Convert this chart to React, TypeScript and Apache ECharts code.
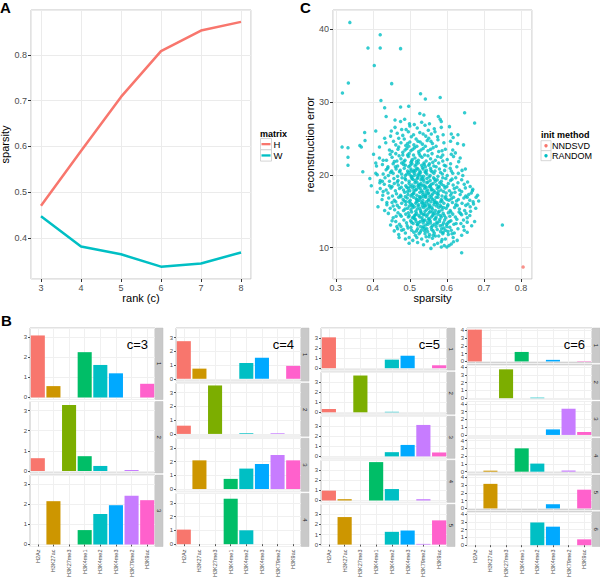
import React, { useEffect, useRef } from "react";
import * as echarts from "echarts";

// ---------- Panel A data ----------
const ranks = [3, 4, 5, 6, 7, 8];
const sparsityH = [0.47, 0.59, 0.708, 0.808, 0.853, 0.872];
const sparsityW = [0.447, 0.381, 0.364, 0.337, 0.344, 0.368];

// ---------- Panel B data ----------
const marks = ["H2Az", "H3K27ac", "H3K27me3", "H3K4me1", "H3K4me2", "H3K4me3", "H3K79me2", "H3K9ac"];
const markColors = ["#F8766D", "#CD9600", "#7CAE00", "#00BE67", "#00BFC4", "#00A9FF", "#C77CFF", "#FF61CC"];

const basisC3 = [
  [3.08, 0.565, 0, 2.25, 1.615, 1.2, 0, 0.68],
  [0.635, 0, 3.28, 0.735, 0.25, 0, 0.05, 0],
  [0, 2.15, 0, 0.715, 1.515, 1.95, 2.415, 2.2],
];
const basisC4 = [
  [2.74, 0.74, 0, 0, 1.15, 1.54, 0, 0.94],
  [0.6, 0, 3.53, 0, 0.05, 0, 0.05, 0],
  [0, 2.09, 0, 0.74, 1.49, 1.83, 2.48, 2.09],
  [1.06, 0, 0, 3.31, 1.01, 0, 0, 0],
];
const basisC5 = [
  [3.07, 0, 0, 0, 0.85, 1.24, 0, 0.29],
  [0.33, 0, 3.66, 0, 0.05, 0, 0, 0],
  [0, 0, 0, 0, 0.42, 1.14, 3.13, 0.39],
  [0.98, 0.13, 0, 3.82, 1.14, 0, 0.13, 0],
  [0, 2.74, 0, 0, 1.27, 1.4, 0.07, 2.41],
];
const basisC6 = [
  [4.09, 0, 0, 1.22, 0, 0.2, 0, 0.05],
  [0, 0, 3.71, 0, 0.07, 0, 0, 0],
  [0, 0, 0, 0, 0, 0.71, 3.37, 0.38],
  [0, 0.13, 0, 3.0, 1.04, 0, 0.15, 0],
  [0, 3.16, 0, 0, 0, 0.54, 0, 2.41],
  [0, 0, 0, 0, 2.92, 2.38, 0, 0.75],
];
const rankLabels = ["c=3", "c=4", "c=5", "c=6"];
const basisSets = [basisC3, basisC4, basisC5, basisC6];
const yTickLabelsB = [["0", "1", "2", "3"], ["0", "1", "2", "3"], ["0", "1", "2", "3"], ["0", "1", "2", "3", "4"]];

// ---------- Panel C data ----------
const nndsvdPoints = [[0.806, 7.35]];
const randomPoints = [
  [0.640,9.3],[0.557,9.9],[0.600,10.1],[0.606,10.3],[0.566,10.4],[0.521,10.7],[0.575,10.6],[0.612,10.5],[0.547,10.9],[0.585,10.8],[0.628,11.0],[0.508,11.0],
  [0.532,11.2],[0.561,11.3],[0.596,11.2],[0.498,11.4],[0.544,11.5],[0.578,11.6],[0.617,11.4],[0.470,11.8],[0.515,11.7],[0.553,11.8],[0.589,11.9],[0.640,11.7],[0.488,12.0],[0.528,12.1],[0.566,12.0],[0.603,12.2],[0.655,12.1],[0.458,12.3],[0.505,12.4],[0.540,12.3],[0.574,12.5],[0.612,12.4],[0.495,12.7],[0.521,12.6],[0.558,12.8],[0.592,12.7],[0.630,12.6],[0.476,12.9],[0.537,12.9],[0.548,12.2],[0.583,12.2],[0.511,12.1],[0.569,11.6],[0.525,11.9],[0.604,11.8],[0.483,12.5],[0.645,12.9],[0.559,12.5],[0.535,12.7],[0.600,12.9],[0.518,12.3],[0.586,12.6],[0.552,11.5],[0.620,12.0],[0.467,12.6],
  [0.448,13.1],[0.472,13.2],[0.493,13.0],[0.509,13.3],[0.521,13.1],[0.536,13.4],[0.549,13.2],[0.561,13.0],[0.574,13.3],[0.588,13.1],[0.603,13.4],[0.619,13.2],[0.638,13.3],[0.655,13.5],[0.675,13.6],[0.750,13.1],[0.462,13.6],[0.484,13.8],[0.502,13.7],[0.515,13.9],[0.528,13.6],[0.541,13.8],[0.555,13.7],[0.567,13.9],[0.580,13.6],[0.594,13.8],[0.611,13.7],[0.627,13.9],[0.645,13.8],[0.455,14.1],[0.477,14.3],[0.496,14.2],[0.512,14.0],[0.524,14.4],[0.533,14.1],[0.545,14.3],[0.558,14.2],[0.570,14.0],[0.583,14.4],[0.597,14.1],[0.608,14.3],[0.623,14.2],[0.640,14.5],[0.662,14.4],[0.442,14.7],[0.468,14.8],[0.489,14.6],[0.505,14.9],[0.518,14.7],[0.530,14.9],[0.539,14.6],[0.552,14.8],[0.563,14.6],[0.577,14.9],[0.590,14.7],[0.604,14.8],[0.616,14.6],[0.633,14.9],[0.652,14.7],[0.505,13.5],[0.548,13.5],[0.537,14.5],[0.562,14.4],[0.520,13.2],[0.585,14.2],[0.515,14.5],[0.573,13.5],[0.498,14.4],[0.556,13.4],[0.527,14.2],[0.543,13.1],[0.568,14.7],[0.591,13.4],[0.510,14.2],[0.534,13.8],
  [0.414,15.6],[0.432,15.1],[0.447,15.4],[0.459,15.2],[0.471,15.5],[0.483,15.1],[0.494,15.4],[0.503,15.2],[0.512,15.6],[0.520,15.3],[0.529,15.1],[0.537,15.5],[0.545,15.2],[0.553,15.6],[0.561,15.3],[0.569,15.1],[0.578,15.5],[0.587,15.2],[0.598,15.4],[0.609,15.1],[0.621,15.5],[0.634,15.3],[0.648,15.1],[0.663,15.6],[0.678,15.4],[0.438,15.9],[0.452,16.2],[0.466,15.8],[0.478,16.1],[0.489,15.9],[0.498,16.3],[0.507,15.8],[0.516,16.1],[0.524,15.9],[0.532,16.2],[0.540,15.8],[0.549,16.0],[0.557,16.3],[0.565,15.9],[0.573,16.2],[0.582,15.8],[0.592,16.1],[0.603,15.9],[0.615,16.2],[0.628,15.8],[0.641,16.1],[0.657,16.0],[0.671,16.3],[0.686,16.4],[0.425,16.6],[0.443,16.8],[0.458,16.5],[0.470,16.9],[0.482,16.6],[0.493,16.8],[0.501,16.5],[0.510,16.9],[0.519,16.6],[0.527,16.8],[0.535,16.5],[0.543,16.9],[0.551,16.6],[0.559,16.8],[0.567,16.5],[0.576,16.9],[0.585,16.6],[0.595,16.8],[0.606,16.5],[0.618,16.9],[0.631,16.6],[0.646,16.8],[0.662,16.5],[0.679,16.9],[0.508,15.5],[0.526,16.5],[0.545,16.3],[0.555,15.0],[0.516,15.0],[0.534,15.7],[0.562,16.6],[0.541,15.0],[0.587,16.4],[0.499,15.7],[0.572,15.7],[0.521,16.4],[0.551,15.4],[0.530,16.9],[0.490,16.3],[0.580,15.0],[0.612,16.7],
  [0.396,18.5],[0.412,17.6],[0.427,17.2],[0.441,17.5],[0.453,17.1],[0.464,17.4],[0.475,17.2],[0.486,17.6],[0.495,17.3],[0.503,17.1],[0.511,17.5],[0.519,17.2],[0.527,17.6],[0.535,17.3],[0.543,17.1],[0.551,17.5],[0.559,17.2],[0.568,17.6],[0.577,17.3],[0.587,17.1],[0.598,17.5],[0.610,17.2],[0.622,17.6],[0.636,17.3],[0.651,17.1],[0.666,17.5],[0.683,17.2],[0.420,18.1],[0.436,17.9],[0.449,18.2],[0.461,17.8],[0.472,18.1],[0.483,17.9],[0.492,18.3],[0.500,17.8],[0.508,18.2],[0.516,17.9],[0.524,18.3],[0.532,17.8],[0.540,18.1],[0.548,17.9],[0.556,18.3],[0.565,17.8],[0.574,18.1],[0.584,17.9],[0.595,18.2],[0.607,17.8],[0.620,18.1],[0.634,17.9],[0.650,18.2],[0.431,18.7],[0.445,18.5],[0.458,18.8],[0.469,18.6],[0.479,18.9],[0.489,18.5],[0.498,18.8],[0.506,18.6],[0.514,18.9],[0.522,18.5],[0.530,18.8],[0.538,18.6],[0.546,18.9],[0.555,18.5],[0.563,18.8],[0.572,18.6],[0.581,18.9],[0.592,18.5],[0.604,18.8],[0.617,18.6],[0.630,18.9],[0.647,18.7],[0.663,18.4],[0.509,17.4],[0.527,18.6],[0.545,17.7],[0.553,18.4],[0.518,18.0],[0.537,17.0],[0.562,17.4],[0.501,18.4],[0.579,18.4],[0.488,17.0],[0.533,18.5],[0.549,17.4],
  [0.373,20.4],[0.392,19.5],[0.408,20.2],[0.420,19.2],[0.433,19.6],[0.445,19.1],[0.457,19.5],[0.468,19.2],[0.479,19.6],[0.489,19.3],[0.498,19.1],[0.506,19.5],[0.514,19.2],[0.522,19.6],[0.530,19.3],[0.538,19.1],[0.546,19.5],[0.555,19.2],[0.564,19.6],[0.574,19.3],[0.585,19.1],[0.597,19.5],[0.610,19.2],[0.624,19.6],[0.640,19.3],[0.428,20.1],[0.442,19.9],[0.455,20.2],[0.467,19.8],[0.478,20.1],[0.488,19.9],[0.497,20.3],[0.505,19.8],[0.513,20.2],[0.521,19.9],[0.529,20.3],[0.537,19.8],[0.546,20.1],[0.555,19.9],[0.565,20.2],[0.576,19.8],[0.588,20.1],[0.601,19.9],[0.616,20.2],[0.631,20.2],[0.650,20.8],[0.436,20.7],[0.451,20.5],[0.463,20.8],[0.474,20.6],[0.485,20.9],[0.494,20.5],[0.503,20.8],[0.511,20.6],[0.519,20.9],[0.527,20.5],[0.536,20.8],[0.545,20.6],[0.556,20.9],[0.568,20.5],[0.580,20.8],[0.594,20.6],[0.609,20.9],[0.508,19.4],[0.525,20.0],[0.516,20.6],[0.533,19.5],[0.500,20.0],[0.541,20.4],[0.519,19.0],
  [0.333,21.3],[0.333,22.4],[0.408,21.6],[0.410,21.2],[0.426,21.4],[0.441,21.1],[0.455,21.5],[0.467,21.2],[0.478,21.6],[0.488,21.3],[0.497,21.1],[0.506,21.5],[0.514,21.2],[0.523,21.6],[0.532,21.3],[0.542,21.1],[0.553,21.5],[0.565,21.2],[0.578,21.6],[0.593,21.3],[0.610,21.5],[0.627,21.1],[0.418,22.3],[0.437,22.0],[0.452,22.4],[0.465,21.9],[0.476,22.2],[0.487,22.0],[0.496,22.5],[0.505,21.9],[0.514,22.3],[0.523,22.0],[0.533,22.4],[0.544,21.9],[0.556,22.2],[0.569,22.0],[0.584,22.4],[0.601,22.1],[0.618,22.5],[0.447,22.8],[0.462,22.9],[0.481,22.7],[0.498,22.9],[0.510,22.7],[0.525,22.9],[0.540,22.7],[0.560,22.9],[0.589,22.7],[0.612,22.8],[0.503,21.7],
  [0.317,23.8],[0.333,23.7],[0.365,24.0],[0.369,23.8],[0.379,24.7],[0.435,24.4],[0.452,23.2],[0.468,23.5],[0.481,23.1],[0.492,23.6],[0.503,23.3],[0.513,23.7],[0.524,23.2],[0.536,23.6],[0.549,23.3],[0.563,23.7],[0.578,23.2],[0.596,23.5],[0.616,23.4],[0.645,24.1],[0.462,24.1],[0.476,24.4],[0.489,24.0],[0.500,24.5],[0.511,24.1],[0.522,24.6],[0.534,24.2],[0.547,24.7],[0.561,24.3],[0.576,24.8],[0.592,24.4],[0.610,24.6],[0.485,24.9],[0.517,24.9],[0.551,25.0],
  [0.378,25.8],[0.408,26.0],[0.448,25.3],[0.466,25.7],[0.481,25.4],[0.496,25.9],[0.510,25.5],[0.527,25.8],[0.543,25.3],[0.558,25.6],[0.575,25.2],[0.590,25.5],[0.612,25.6],[0.630,25.5],[0.460,26.5],[0.478,26.2],[0.500,26.7],[0.520,26.4],[0.541,26.8],[0.566,26.3],[0.585,26.5],[0.607,26.6],
  [0.460,27.5],[0.475,27.3],[0.486,27.6],[0.499,27.0],[0.532,27.2],[0.553,27.0],[0.582,27.6],[0.585,27.3],[0.675,27.1],[0.436,28.0],[0.527,28.4],[0.538,28.2],[0.577,28.0],[0.648,28.5],
  [0.338,40.9],[0.387,37.4],[0.420,39.2],[0.420,37.4],[0.475,37.3],[0.404,35.0],[0.334,32.6],[0.451,32.5],[0.318,31.2],[0.529,31.1],[0.542,30.4],[0.422,30.2],[0.582,30.6],[0.432,29.2],[0.475,29.3],[0.497,29.4],
  [0.478,12.4],[0.491,13.4],[0.503,12.8],[0.517,13.6],[0.529,12.9],[0.541,12.6],[0.552,13.9],[0.563,12.3],[0.571,14.2],[0.582,13.0],[0.596,12.4],[0.607,13.6],[0.519,11.4],[0.541,11.9],[0.563,11.7],[0.587,11.1],
  [0.474,14.5],[0.487,15.3],[0.496,14.8],[0.506,15.9],[0.513,14.4],[0.522,15.7],[0.531,14.7],[0.539,16.1],[0.547,14.5],[0.554,15.8],[0.561,14.9],[0.569,16.2],[0.576,14.6],[0.585,15.6],[0.593,14.4],[0.602,15.7],[0.611,14.9],[0.624,15.9],[0.637,14.7],[0.651,15.8],
  [0.462,16.3],[0.476,17.0],[0.485,16.4],[0.494,17.7],[0.502,16.1],[0.511,17.8],[0.518,16.3],[0.526,17.0],[0.534,16.1],[0.542,17.3],[0.550,16.5],[0.558,17.9],[0.566,16.2],[0.574,17.4],[0.583,16.3],[0.591,17.7],[0.600,16.6],[0.613,17.5],[0.626,16.4],[0.640,17.7],[0.655,16.9],[0.669,17.8],
  [0.452,18.4],[0.466,19.0],[0.477,18.3],[0.487,19.5],[0.496,18.1],[0.504,19.7],[0.512,18.4],[0.520,19.5],[0.528,18.1],[0.536,19.4],[0.544,18.3],[0.552,19.7],[0.560,18.0],[0.569,19.1],[0.578,18.3],[0.589,19.6],[0.600,18.4],[0.614,19.4],[0.627,18.3],[0.643,19.9],
  [0.448,20.3],[0.461,21.1],[0.472,20.4],[0.483,21.4],[0.492,20.1],[0.501,21.3],[0.509,20.4],[0.517,21.4],[0.525,20.2],[0.534,21.0],[0.543,20.3],[0.551,21.3],[0.560,20.4],[0.571,21.1],[0.583,20.3],[0.597,21.2],[0.612,20.5],
  [0.458,21.8],[0.471,22.6],[0.484,21.8],[0.494,22.7],[0.507,22.1],[0.518,21.8],[0.528,22.6],[0.538,21.6],[0.549,22.6],[0.562,21.7],[0.575,22.5],[0.589,21.9],
  [0.470,23.8],[0.487,23.4],[0.497,23.9],[0.508,23.5],[0.519,23.9],[0.530,23.4],[0.542,23.9],[0.556,23.5],[0.571,23.9],[0.587,23.3],
  [0.494,24.3],[0.528,24.5],[0.557,24.6],[0.470,25.0],[0.504,25.2],[0.536,25.6],[0.568,25.9],[0.490,26.2],[0.512,26.9],[0.550,26.1],
  [0.507,14.1],[0.524,13.4],[0.538,13.7],[0.551,14.0],[0.566,13.2],[0.581,13.9],[0.599,13.2],[0.546,12.6],[0.531,12.4],[0.571,12.9],[0.590,12.1],[0.608,12.8],[0.625,13.3],[0.614,11.9],[0.537,10.4],[0.593,10.3],
  [0.527,15.4],[0.543,15.7],[0.559,15.5],[0.575,16.0],[0.591,15.5],[0.517,16.7],[0.535,17.6],[0.554,17.0],[0.571,16.9],[0.597,17.0],[0.506,17.3],[0.524,18.7],[0.541,18.4],[0.558,18.7],[0.577,17.7],[0.512,19.9],[0.531,19.8],[0.549,19.0],[0.567,19.4],[0.586,18.7],[0.503,20.5],[0.522,20.8],[0.539,21.4],[0.557,20.6],
  [0.664,15.0],[0.672,16.0],[0.659,17.3],[0.670,18.0],[0.656,19.0],[0.641,20.6],[0.632,21.8],[0.623,23.0],[0.636,22.3],[0.629,24.3],[0.617,25.1],[0.655,14.1],[0.667,13.0],[0.647,12.4],[0.618,10.8],[0.585,10.1],
  [0.438,16.2],[0.428,17.7],[0.419,18.9],[0.412,20.0],[0.426,19.1],[0.440,20.9],[0.428,22.0],[0.445,23.4],[0.418,23.8],[0.402,22.8],[0.456,24.6],[0.450,26.0],[0.432,25.0],[0.455,15.7],[0.463,14.3],[0.452,13.7],[0.465,12.9],[0.471,11.4],[0.488,11.2],[0.498,10.6],
];

const FONT = "Liberation Sans, Arial, Helvetica, sans-serif";
const GRID_LINE = "#EBEBEB";
const BORDER = "#C4C4C4";
const TICK_TXT = "#4D4D4D";

function txt(text: string, x: number, y: number, opts: any = {}) {
  const align = opts.align || "left";
  const va = opts.va || "middle";
  return {
    type: "text",
    x,
    y,
    rotation: opts.rotation || 0,
    silent: true,
    z: 10,
    style: {
      text,
      fill: opts.fill || "#000",
      fontSize: opts.fontSize || 9,
      fontFamily: FONT,
      fontWeight: opts.fontWeight || "normal",
      align,
      textAlign: align,
      verticalAlign: va,
      textVerticalAlign: va,
    },
  };
}

function buildOption() {
  const grid: any[] = [];
  const xAxis: any[] = [];
  const yAxis: any[] = [];
  const series: any[] = [];
  const graphic: any[] = [];

  // ---------- Panel A ----------
  grid.push({ left: 31, top: 10, width: 220, height: 269, show: true, borderColor: BORDER, borderWidth: 1, backgroundColor: "#fff", outerBoundsMode: "none" });
  xAxis.push({
    type: "value", gridIndex: 0, min: 2.75, max: 8.25,
    axisLine: { show: false }, axisTick: { show: true, length: 3, lineStyle: { color: "#333" } },
    axisLabel: { fontSize: 9, color: TICK_TXT, margin: 4, fontFamily: FONT, showMinLabel: false, showMaxLabel: false },
    splitLine: { show: true, lineStyle: { color: GRID_LINE, width: 1 } },
    name: "rank (c)", nameLocation: "middle", nameGap: 12, nameTextStyle: { fontSize: 11, color: "#000", fontFamily: FONT },
  });
  yAxis.push({
    type: "value", gridIndex: 0, min: 0.31, max: 0.898,
    axisLine: { show: false }, axisTick: { show: true, length: 3, lineStyle: { color: "#333" } },
    axisLabel: { fontSize: 9, color: TICK_TXT, margin: 4, fontFamily: FONT, showMinLabel: false, showMaxLabel: false },
    splitLine: { show: true, lineStyle: { color: GRID_LINE, width: 1 } },
    name: "sparsity", nameLocation: "middle", nameGap: 19, nameTextStyle: { fontSize: 11, color: "#000", fontFamily: FONT },
  });
  series.push({
    name: "H", type: "line", xAxisIndex: 0, yAxisIndex: 0, showSymbol: false, symbol: "none",
    lineStyle: { color: "#F8766D", width: 2.5 }, itemStyle: { color: "#F8766D" },
    data: ranks.map((r, i) => [r, sparsityH[i]]),
  });
  series.push({
    name: "W", type: "line", xAxisIndex: 0, yAxisIndex: 0, showSymbol: false, symbol: "none",
    lineStyle: { color: "#00BFC4", width: 2.5 }, itemStyle: { color: "#00BFC4" },
    data: ranks.map((r, i) => [r, sparsityW[i]]),
  });

  // ---------- Panel C ----------
  grid.push({ left: 333, top: 10, width: 199, height: 269, show: true, borderColor: BORDER, borderWidth: 1, backgroundColor: "#fff", outerBoundsMode: "none" });
  xAxis.push({
    type: "value", gridIndex: 1, min: 0.2925, max: 0.83,
    axisLine: { show: false }, axisTick: { show: true, length: 3, lineStyle: { color: "#333" } },
    axisLabel: { fontSize: 9, color: TICK_TXT, margin: 4, fontFamily: FONT, showMinLabel: false, showMaxLabel: false },
    splitLine: { show: true, lineStyle: { color: GRID_LINE, width: 1 } },
    name: "sparsity", nameLocation: "middle", nameGap: 12, nameTextStyle: { fontSize: 11, color: "#000", fontFamily: FONT },
  });
  yAxis.push({
    type: "value", gridIndex: 1, min: 5.7, max: 42.6,
    axisLine: { show: false }, axisTick: { show: true, length: 3, lineStyle: { color: "#333" } },
    axisLabel: { fontSize: 9, color: TICK_TXT, margin: 4, fontFamily: FONT, showMinLabel: false, showMaxLabel: false },
    splitLine: { show: true, lineStyle: { color: GRID_LINE, width: 1 } },
    name: "reconstruction error", nameLocation: "middle", nameGap: 18, nameTextStyle: { fontSize: 11, color: "#000", fontFamily: FONT },
  });
  series.push({
    name: "NNDSVD", type: "scatter", xAxisIndex: 1, yAxisIndex: 1, symbolSize: 3.5,
    itemStyle: { color: "#F8766D" }, data: nndsvdPoints,
  });
  series.push({
    name: "RANDOM", type: "scatter", xAxisIndex: 1, yAxisIndex: 1, symbolSize: 3.5,
    itemStyle: { color: "#00BFC4" }, data: randomPoints,
  });

  // ---------- Panel B ----------
  const cols = [
    { L: 30, R: 155 },
    { L: 176, R: 301 },
    { L: 321, R: 447 },
    { L: 467, R: 592 },
  ];
  const yRanges = [[-0.1, 3.45], [-0.17, 3.7], [-0.19, 4.0], [-0.17, 4.3]];
  const topB = 328, bottomB = 546.5, gap = 2;
  basisSets.forEach((set, ci) => {
    const n = set.length;
    const h = (bottomB - topB - (n - 1) * gap) / n;
    const { L, R } = cols[ci];
    set.forEach((vals, ri) => {
      const gi = grid.length;
      const top = topB + ri * (h + gap);
      const isBottom = ri === n - 1;
      grid.push({ left: L, top, width: R - L, height: h, show: true, borderColor: BORDER, borderWidth: 1, backgroundColor: "#fff", outerBoundsMode: "none" });
      xAxis.push({
        type: "category", gridIndex: gi, data: marks,
        axisLine: { show: false },
        axisTick: { show: isBottom, alignWithLabel: true, length: 2, lineStyle: { color: "#555" } },
        axisLabel: { show: isBottom, rotate: 90, fontSize: 5.5, color: TICK_TXT, margin: 3, fontFamily: FONT, interval: 0 },
        splitLine: { show: true, alignWithLabel: true, lineStyle: { color: "#F0F0F0", width: 1 } },
      });
      yAxis.push({
        type: "value", gridIndex: gi, min: yRanges[ci][0], max: yRanges[ci][1],
        axisLine: { show: false },
        axisTick: { show: true, length: 2, lineStyle: { color: "#555" } },
        axisLabel: { fontSize: 6, color: TICK_TXT, margin: 3, fontFamily: FONT, showMinLabel: false, showMaxLabel: false,
          formatter: (v: number) => (yTickLabelsB[ci].includes(String(v)) ? String(v) : "") },
        splitLine: { show: true, lineStyle: { color: "#F0F0F0", width: 1 } },
      });
      series.push({
        type: "bar", xAxisIndex: gi, yAxisIndex: gi, barCategoryGap: "10%", silent: true,
        data: vals.map((v, i) => ({ value: v === 0 ? "-" : v, itemStyle: { color: markColors[i] } })),
      });
      // strip
      graphic.push({ type: "rect", silent: true, z: 5, shape: { x: R + 0.5, y: top, width: 7.5, height: h }, style: { fill: "#C9C9C9", stroke: "#BDBDBD", lineWidth: 0.5 } });
      graphic.push(txt(String(ri + 1), R + 4.3, top + h / 2, { align: "center", va: "middle", fontSize: 6, fill: "#1A1A1A", rotation: -Math.PI / 2 }));
    });
    graphic.push(txt(rankLabels[ci], R - 7, 344, { align: "right", va: "middle", fontSize: 13 }));
  });

  // ---------- Legends ----------
  graphic.push(txt("matrix", 260, 134, { fontSize: 9, fontWeight: "bold" }));
  const aItems = [{ name: "H", color: "#F8766D" }, { name: "W", color: "#00BFC4" }];
  aItems.forEach((it, i) => {
    const y0 = 138.5 + i * 11.3;
    graphic.push({ type: "rect", silent: true, shape: { x: 260.5, y: y0, width: 11, height: 11.3 }, style: { fill: "#fff", stroke: "#CCCCCC", lineWidth: 0.8 } });
    graphic.push({ type: "line", silent: true, shape: { x1: 261.5, y1: y0 + 5.65, x2: 270.5, y2: y0 + 5.65 }, style: { stroke: it.color, lineWidth: 2.3 } });
    graphic.push(txt(it.name, 273.5, y0 + 5.9, { fontSize: 9.5 }));
  });
  graphic.push(txt("init method", 541, 134.5, { fontSize: 9, fontWeight: "bold" }));
  const cItems = [{ name: "NNDSVD", color: "#F8766D" }, { name: "RANDOM", color: "#00BFC4" }];
  cItems.forEach((it, i) => {
    const y0 = 140.7 + i * 10;
    graphic.push({ type: "rect", silent: true, shape: { x: 541, y: y0, width: 10, height: 10 }, style: { fill: "#fff", stroke: "#CCCCCC", lineWidth: 0.8 } });
    graphic.push({ type: "circle", silent: true, shape: { cx: 546, cy: y0 + 5, r: 1.7 }, style: { fill: it.color } });
    graphic.push(txt(it.name, 552, y0 + 5.2, { fontSize: 9 }));
  });

  // ---------- Panel labels ----------
  graphic.push(txt("A", 0, 7.5, { fontSize: 15, fontWeight: "bold" }));
  graphic.push(txt("C", 300, 7.5, { fontSize: 15, fontWeight: "bold" }));
  graphic.push(txt("B", 1, 320, { fontSize: 15, fontWeight: "bold" }));

  return {
    animation: false,
    backgroundColor: "#fff",
    textStyle: { fontFamily: FONT },
    grid, xAxis, yAxis, series, graphic,
  };
}

export default function App() {
  const ref = useRef<HTMLDivElement>(null);
  useEffect(() => {
    document.body.style.margin = "0";
    if (!ref.current) return;
    const chart = echarts.init(ref.current, undefined, { renderer: "svg" });
    chart.setOption(buildOption() as any);
    return () => chart.dispose();
  }, []);
  return <div ref={ref} style={{ width: 600, height: 582 }} />;
}
